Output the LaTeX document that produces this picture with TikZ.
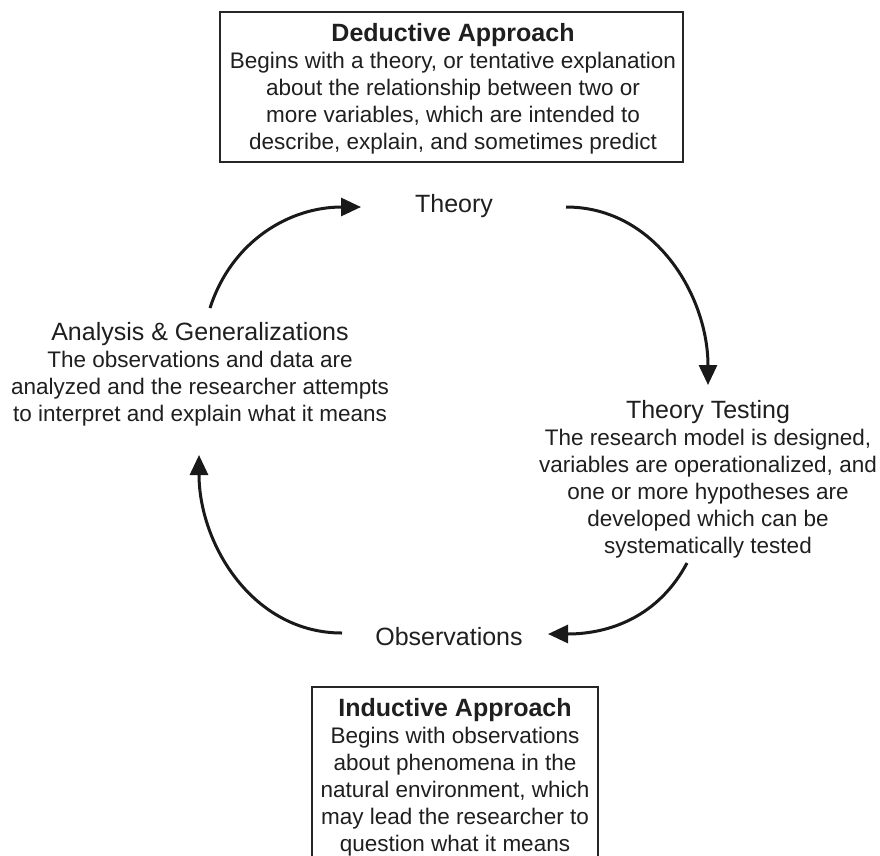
\documentclass[tikz,border=0pt]{standalone}
\usepackage{fontspec}
\setmainfont{Liberation Sans}
\usetikzlibrary{arrows.meta}
\newcommand{\ttl}[1]{{\fontsize{25}{27}\selectfont #1}}
\begin{document}
\begin{tikzpicture}[x=1pt,y=-1pt,
  txt/.style={align=center,inner sep=0pt,font=\fontsize{22.5}{27}\selectfont,text=black!88},
  boxline/.style={draw=black!85,line width=1.8pt},
  cyclearrow/.style={line width=3pt,black!90,-{Triangle[length=20pt,width=18pt]}}]
\useasboundingbox (0,0) rectangle (880,855);
\clip (0,0) rectangle (880,855);
\fill[white] (0,0) rectangle (880,855);
% deductive box
\node[boxline,minimum width=463pt,minimum height=150pt,inner sep=0pt] (deductive) at (451.5,87) {};
\node[txt,anchor=north] (deductivetext) at (453,23)
  {\ttl{\textbf{Deductive Approach}}\\Begins with a theory, or tentative explanation\\about the relationship between two or\\more variables, which are intended to\\describe, explain, and sometimes predict};
% inductive box
\node[boxline,minimum width=286pt,minimum height=190pt,inner sep=0pt,anchor=north] (inductive) at (455,686) {};
\node[txt,anchor=north] (inductivetext) at (455,698)
  {\ttl{\textbf{Inductive Approach}}\\Begins with observations\\about phenomena in the\\natural environment, which\\may lead the researcher to\\question what it means};
% cycle labels
\node[txt,anchor=base,font=\fontsize{25}{27}\selectfont] (theory) at (454,212) {Theory};
\node[txt,anchor=base,font=\fontsize{25}{27}\selectfont] (observations) at (449,645) {Observations};
\node[txt,anchor=north] (analysis) at (200,322) {\ttl{Analysis \& Generalizations}\\The observations and data are\\analyzed and the researcher attempts\\to interpret and explain what it means};
\node[txt,anchor=north] (testing) at (708,400) {\ttl{Theory Testing}\\The research model is designed,\\variables are operationalized, and\\one or more hypotheses are\\developed which can be\\systematically tested};
% arrows
\coordinate (a1s) at (210,308);
\coordinate (a1e) at (361,207);
\coordinate (a2s) at (566,207);
\coordinate (a2e) at (708,385);
\coordinate (a3s) at (687,563);
\coordinate (a3e) at (548,634);
\coordinate (a4s) at (342,633);
\coordinate (a4e) at (199,455);
\draw[cyclearrow] (a1s) to[out=72,in=180] (a1e);
\draw[cyclearrow] (a2s) to[out=0,in=90] (a2e);
\draw[cyclearrow] (a3s) to[out=-118,in=0] (a3e);
\draw[cyclearrow] (a4s) to[out=180,in=-90] (a4e);
\end{tikzpicture}
\end{document}
